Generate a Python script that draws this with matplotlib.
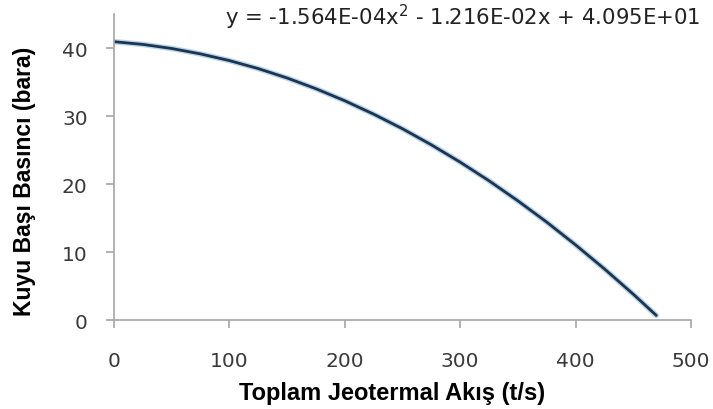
import numpy as np
import matplotlib.pyplot as plt

# values
flow = [0, 25, 50, 75, 100, 125, 150, 175, 200, 225, 250, 275, 300, 325, 350, 375, 400, 425, 450, 470]
pressure = [40.95, 40.55, 39.95, 39.15, 38.17, 36.99, 35.61, 34.03, 32.26, 30.29, 28.14, 25.78,
            23.23, 20.49, 17.54, 14.41, 11.06, 7.53, 3.81, 0.68]
eq_text = 'y = -1.564E-04x$^{2}$ - 1.216E-02x + 4.095E+01'

fig = plt.figure(figsize=(7.13, 4.10), dpi=100)
ax = fig.add_axes([0.160, 0.217, 0.809, 0.746])

ax.plot(flow, pressure, color='#8db8de', lw=4.0, alpha=0.6, solid_capstyle='round')
ax.plot(flow, pressure, color='#1c3550', lw=2.0, solid_capstyle='round')

ax.set_xlim(0, 500); ax.set_ylim(0, 45)
ax.set_xticks(range(0, 501, 100)); ax.set_yticks(range(0, 41, 10))
for s in ['top', 'right']:
    ax.spines[s].set_visible(False)
for s in ['left', 'bottom']:
    ax.spines[s].set_color('#a6a6a6'); ax.spines[s].set_linewidth(1.2)
ax.tick_params(colors='#a6a6a6', length=6, width=1.2, labelcolor='#3a3a3a', labelsize=14.5)
ax.tick_params(axis='x', pad=16)
ax.tick_params(axis='y', pad=13)
ax.set_xlabel('Toplam Jeotermal Akış (t/s)', fontsize=17, fontweight='bold', family='Liberation Sans')
ax.set_ylabel('Kuyu Başı Basıncı (bara)', fontsize=16.5, fontweight='bold', family='Liberation Sans')
ax.xaxis.set_label_coords(0.482, -0.2)
ax.yaxis.set_label_coords(-0.136, 0.455)
ax.text(1.016, 44.6, eq_text, transform=ax.get_yaxis_transform(), ha='right', va='center',
        fontsize=15.3, color='#222222')

fig.savefig('out.png', dpi=100)
